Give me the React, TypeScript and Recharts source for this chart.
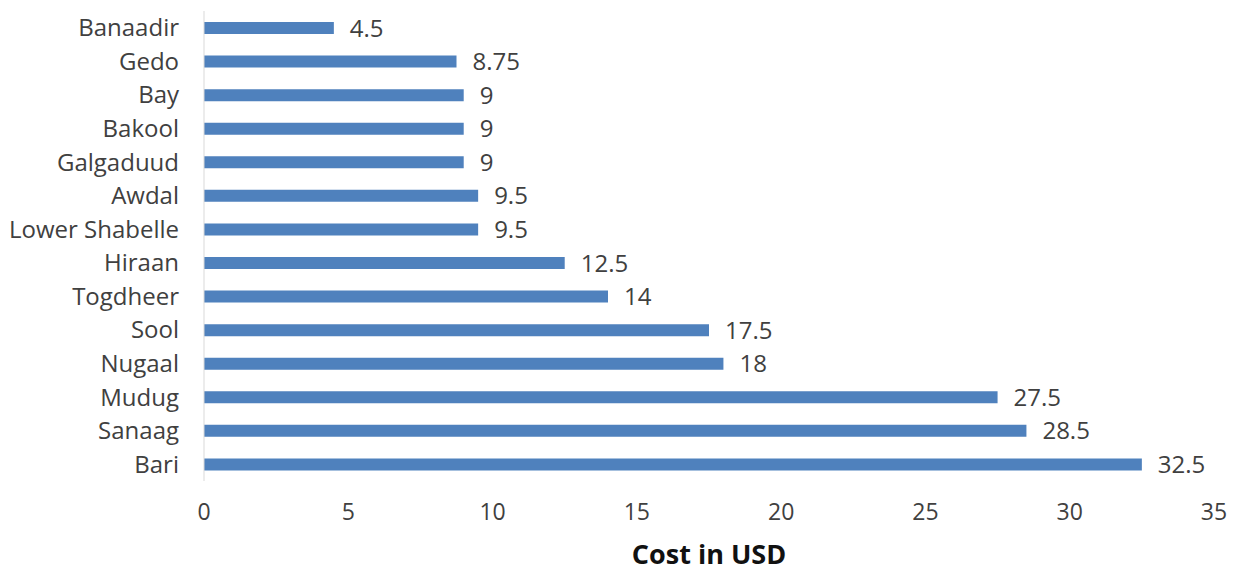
import { BarChart, Bar, XAxis, YAxis, LabelList } from 'recharts';

// regions, top to bottom as drawn
const regions = [
  'Banaadir', 'Gedo', 'Bay', 'Bakool', 'Galgaduud', 'Awdal', 'Lower Shabelle',
  'Hiraan', 'Togdheer', 'Sool', 'Nugaal', 'Mudug', 'Sanaag', 'Bari',
];
const costs = [4.5, 8.75, 9, 9, 9, 9.5, 9.5, 12.5, 14, 17.5, 18, 27.5, 28.5, 32.5];
const xTicks = [0, 5, 10, 15, 20, 25, 30, 35];

const data = regions.map((region, i) => ({ region, cost: costs[i] }));

const font = '"Open Sans", Lato, sans-serif';

export default function App() {
  return (
    <div style={{ position: 'fixed', left: 0, top: 0, width: 1237, height: 572, background: '#fff' }}>
      <BarChart
        width={1237}
        height={572}
        data={data}
        layout="vertical"
        margin={{ top: 11, right: 23, bottom: 0, left: 0 }}
      >
        <XAxis
          type="number"
          domain={[0, 35]}
          ticks={xTicks}
          axisLine={false}
          tickLine={false}
          tickSize={0}
          tickMargin={23}
          height={91}
          tick={{ fontSize: 23, fill: '#404040', fontFamily: font }}
          label={{
            value: 'Cost in USD',
            position: 'insideBottom',
            offset: 8,
            style: { fontSize: 27, fontWeight: 700, fill: '#111', fontFamily: font },
          }}
        />
        <YAxis
          type="category"
          dataKey="region"
          width={204}
          axisLine={{ stroke: '#d9d9d9' }}
          tickLine={false}
          tickSize={0}
          tickMargin={25}
          interval={0}
          tick={{ fontSize: 24, fill: '#404040', fontFamily: font }}
        />
        <Bar dataKey="cost" fill="#4f81bd" barSize={12} isAnimationActive={false}>
          <LabelList
            dataKey="cost"
            position="right"
            offset={16}
            style={{ fontSize: 24, fill: '#404040', fontFamily: font }}
          />
        </Bar>
      </BarChart>
    </div>
  );
}
